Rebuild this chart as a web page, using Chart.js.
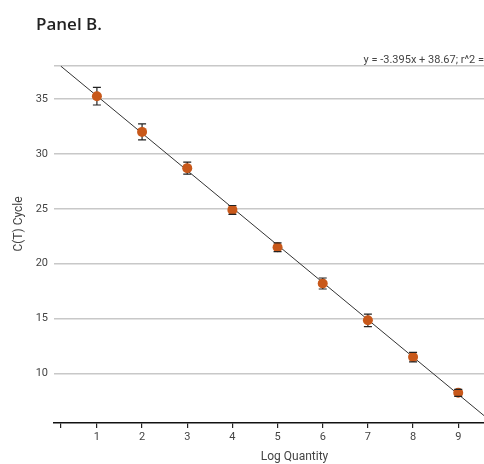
<!DOCTYPE html>
<html>
<head>
<meta charset="utf-8">
<script src="https://cdn.jsdelivr.net/npm/chart.js@4.4.0/dist/chart.umd.min.js"></script>
<style>
  html, body { margin: 0; padding: 0; background: #fff; overflow: hidden; }
  #wrap { width: 484px; height: 464px; overflow: hidden; }
</style>
</head>
<body>
<div id="wrap"><canvas id="myChart" width="540" height="464"></canvas></div>
<script>
// podatki
const logQuantity = [1, 2, 3, 4, 5, 6, 7, 8, 9];
const ctCycle = [35.25, 32.0, 28.7, 24.9, 21.5, 18.2, 14.85, 11.5, 8.25];
const ctError = [0.8, 0.73, 0.55, 0.4, 0.4, 0.5, 0.57, 0.43, 0.32];
// trend line y = -3.395x + 38.67, endpoints
const trendX = [0.2, 10.7];
const trendY = [37.99, 2.34];
const xTicks = [0.2, 1, 2, 3, 4, 5, 6, 7, 8, 9, 10];
const yTicks = [10, 15, 20, 25, 30, 35, 38];
const equationText = "y = -3.395x + 38.67; r^2 =";

// error bars: stem under the dots, caps on top
function barEnds(chart, i) {
  const x = chart.scales.x;
  const y = chart.scales.y;
  return {
    px: x.getPixelForValue(logQuantity[i]),
    top: y.getPixelForValue(ctCycle[i] + ctError[i]),
    bot: y.getPixelForValue(ctCycle[i] - ctError[i])
  };
}

const errorBars = {
  id: 'errorBars',
  beforeDatasetsDraw(chart) {
    const ctx = chart.ctx;
    ctx.save();
    ctx.strokeStyle = '#222';
    ctx.lineWidth = 1.2;
    logQuantity.forEach((q, i) => {
      const e = barEnds(chart, i);
      ctx.beginPath();
      ctx.moveTo(e.px, e.top); ctx.lineTo(e.px, e.bot);
      ctx.stroke();
    });
    ctx.restore();
  },
  afterDatasetsDraw(chart) {
    const ctx = chart.ctx;
    ctx.save();
    ctx.strokeStyle = '#222';
    ctx.lineWidth = 1.2;
    logQuantity.forEach((q, i) => {
      const e = barEnds(chart, i);
      ctx.beginPath();
      ctx.moveTo(e.px - 4, e.top); ctx.lineTo(e.px + 4, e.top);
      ctx.moveTo(e.px - 4, e.bot); ctx.lineTo(e.px + 4, e.bot);
      ctx.stroke();
    });
    ctx.restore();
  }
};

// napisi
const labels = {
  id: 'labels',
  afterDraw(chart) {
    const ctx = chart.ctx;
    ctx.save();
    ctx.fillStyle = '#222';
    ctx.font = '600 17px "Open Sans"';
    ctx.textAlign = 'left';
    ctx.textBaseline = 'alphabetic';
    ctx.fillText('Panel B.', 36, 30);

    ctx.fillStyle = '#444';
    ctx.font = '11px Roboto';
    ctx.textAlign = 'right';
    ctx.fillText(equationText, 484, 63);

    ctx.translate(18.5, 224);
    ctx.rotate(-Math.PI / 2);
    ctx.textAlign = 'center';
    ctx.textBaseline = 'middle';
    ctx.font = '12px Roboto';
    ctx.fillText('C(T) Cycle', 0, 0);
    ctx.restore();
  }
};

const ctx = document.getElementById('myChart').getContext('2d');
const myChart = new Chart(ctx, {
  type: 'scatter',
  data: {
    datasets: [
      {
        label: 'trend',
        type: 'line',
        data: trendX.map((v, i) => ({ x: v, y: trendY[i] })),
        borderColor: '#333',
        borderWidth: 1,
        pointRadius: 0,
        fill: false,
        order: 2
      },
      {
        label: 'C(T)',
        data: logQuantity.map((v, i) => ({ x: v, y: ctCycle[i] })),
        backgroundColor: '#c8581a',
        borderWidth: 0,
        pointRadius: 5,
        order: 1
      }
    ]
  },
  options: {
    responsive: false,
    animation: false,
    layout: { padding: { top: 66, right: 4, left: 0, bottom: 0 } },
    plugins: {
      legend: { display: false },
      title: { display: false },
      tooltip: { enabled: false }
    },
    scales: {
      x: {
        type: 'linear',
        min: 0.05,
        max: 10.7,
        afterBuildTicks: (scale) => { scale.ticks = xTicks.map(v => ({ value: v })); },
        afterFit: (scale) => { scale.height = 41; },
        ticks: {
          autoSkip: false,
          maxRotation: 0,
          padding: 3,
          color: '#444',
          font: { family: 'Roboto', size: 11 },
          callback: (v) => (v === 0.2 ? '' : v)
        },
        grid: { drawOnChartArea: false, drawTicks: true, tickLength: 5, color: '#222', lineWidth: 1.2 },
        border: { display: true, color: '#111', width: 1.5 },
        title: {
          display: true,
          text: 'Log Quantity',
          color: '#444',
          font: { family: 'Roboto', size: 12 },
          padding: { top: 2, bottom: 0 }
        }
      },
      y: {
        type: 'linear',
        min: 5.5,
        max: 38,
        afterBuildTicks: (scale) => { scale.ticks = yTicks.map(v => ({ value: v })); },
        afterFit: (scale) => { scale.width = 54; },
        ticks: {
          padding: 6,
          color: '#444',
          font: { family: 'Roboto', size: 11 },
          callback: (v) => (v === 38 ? '' : v)
        },
        grid: { color: '#c8c8c8', lineWidth: 1.5, drawTicks: false },
        border: { display: false }
      }
    }
  },
  plugins: [errorBars, labels]
});
</script>
</body>
</html>
